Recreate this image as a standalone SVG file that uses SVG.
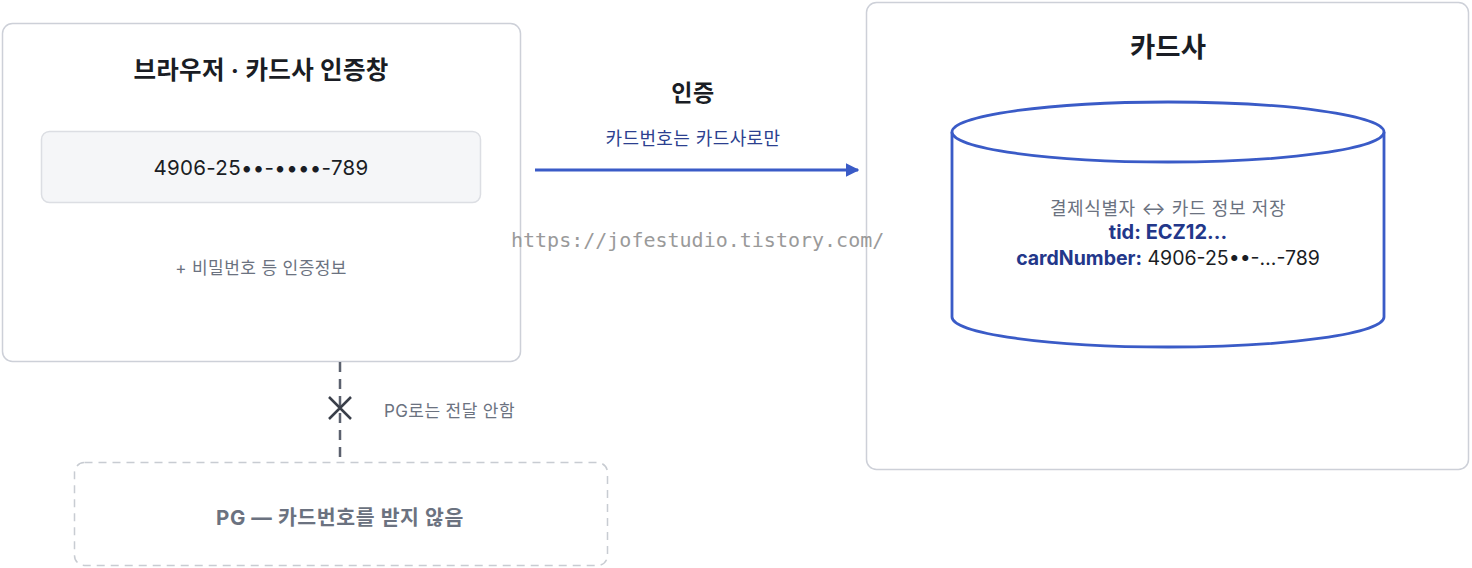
<svg xmlns="http://www.w3.org/2000/svg" width="1472" height="568" viewBox="0 0 1472 568">
<defs>
<style>
text{font-family:"Inter","Noto Sans CJK KR",sans-serif;text-anchor:middle;dominant-baseline:central}
.box{fill:#fff;stroke:#cdd0d8;stroke-width:1.5}
.title{font-weight:700;fill:#1a1d24}
.muted{fill:#6b7280;font-size:17px;letter-spacing:0.4px}
.blue{fill:#23378a;font-weight:700}
.mark{fill:#fff;stroke:#3a5bc7;stroke-width:2.8}
</style>
<marker id="ah" viewBox="0 0 10 10" refX="9" refY="5" markerWidth="4.5" markerHeight="4.5" orient="auto" markerUnits="strokeWidth">
<path d="M0,0 L10,5 L0,10 z" fill="#3a5bc7"/>
</marker>
</defs>
<rect width="1472" height="568" fill="#fff"/>

<g id="browser">
<rect class="box" x="2.5" y="23.5" width="518" height="338" rx="10"/>
<text class="title" x="261" y="70" font-size="24.5" letter-spacing="0.3">브라우저 · 카드사 인증창</text>
<rect x="41.5" y="131.5" width="439" height="71" rx="8" fill="#f5f6f8" stroke="#dcdee3" stroke-width="1.5"/>
<text x="261" y="167" font-size="20.5" fill="#1a1d24" letter-spacing="0.3">4906-25••-••••-789</text>
<text class="muted" x="261" y="268">+ 비밀번호 등 인증정보</text>
</g>

<g id="cardco">
<rect class="box" x="866.5" y="2.5" width="602" height="467" rx="10"/>
<text class="title" x="1168" y="47" font-size="27.5">카드사</text>
<g id="db">
<path class="mark" d="M952,132 L952,317 A216,30 0 0 0 1384,317 L1384,132"/>
<ellipse class="mark" cx="1168" cy="132" rx="216" ry="30"/>
<text class="muted" x="1168" y="208" style="font-size:18px;letter-spacing:0.6px">결제식별자 ↔ 카드 정보 저장</text>
<text class="blue" x="1168" y="232" font-size="20">tid: ECZ12...</text>
<text x="1168" y="258" font-size="19.5"><tspan class="blue">cardNumber:</tspan><tspan fill="#1a1d24"> 4906-25••-…-789</tspan></text>
</g>
</g>

<g id="pg">
<rect x="74.5" y="462.5" width="533" height="103" rx="10" fill="#fff" stroke="#c8ccd2" stroke-width="1.5" stroke-dasharray="8 6"/>
<text x="340" y="517" font-size="20.5" font-weight="700" fill="#6b7280" letter-spacing="0.6">PG — 카드번호를 받지 않음</text>
</g>

<g id="connectors">
<line x1="535" y1="170" x2="858" y2="170" stroke="#3a5bc7" stroke-width="3" marker-end="url(#ah)"/>
<text class="title" x="693" y="93" font-size="23" letter-spacing="0.5">인증</text>
<text x="693" y="138" font-size="18" fill="#2c3f8f" letter-spacing="0.4">카드번호는 카드사로만</text>
<line x1="340" y1="362" x2="340" y2="462" stroke="#5b616e" stroke-width="2.5" stroke-dasharray="10 7"/>
<path d="M329,397 L351,419 M351,397 L329,419" stroke="#3a3f4a" stroke-width="2.5" fill="none"/>
<text class="muted" x="384" y="411" style="text-anchor:start">PG로는 전달 안함</text>
</g>

<text x="511" y="240" font-size="20" fill="#9a9a9a" style="font-family:'DejaVu Sans Mono','Liberation Mono',monospace;text-anchor:start">https://jofestudio.tistory.com/</text>
</svg>
